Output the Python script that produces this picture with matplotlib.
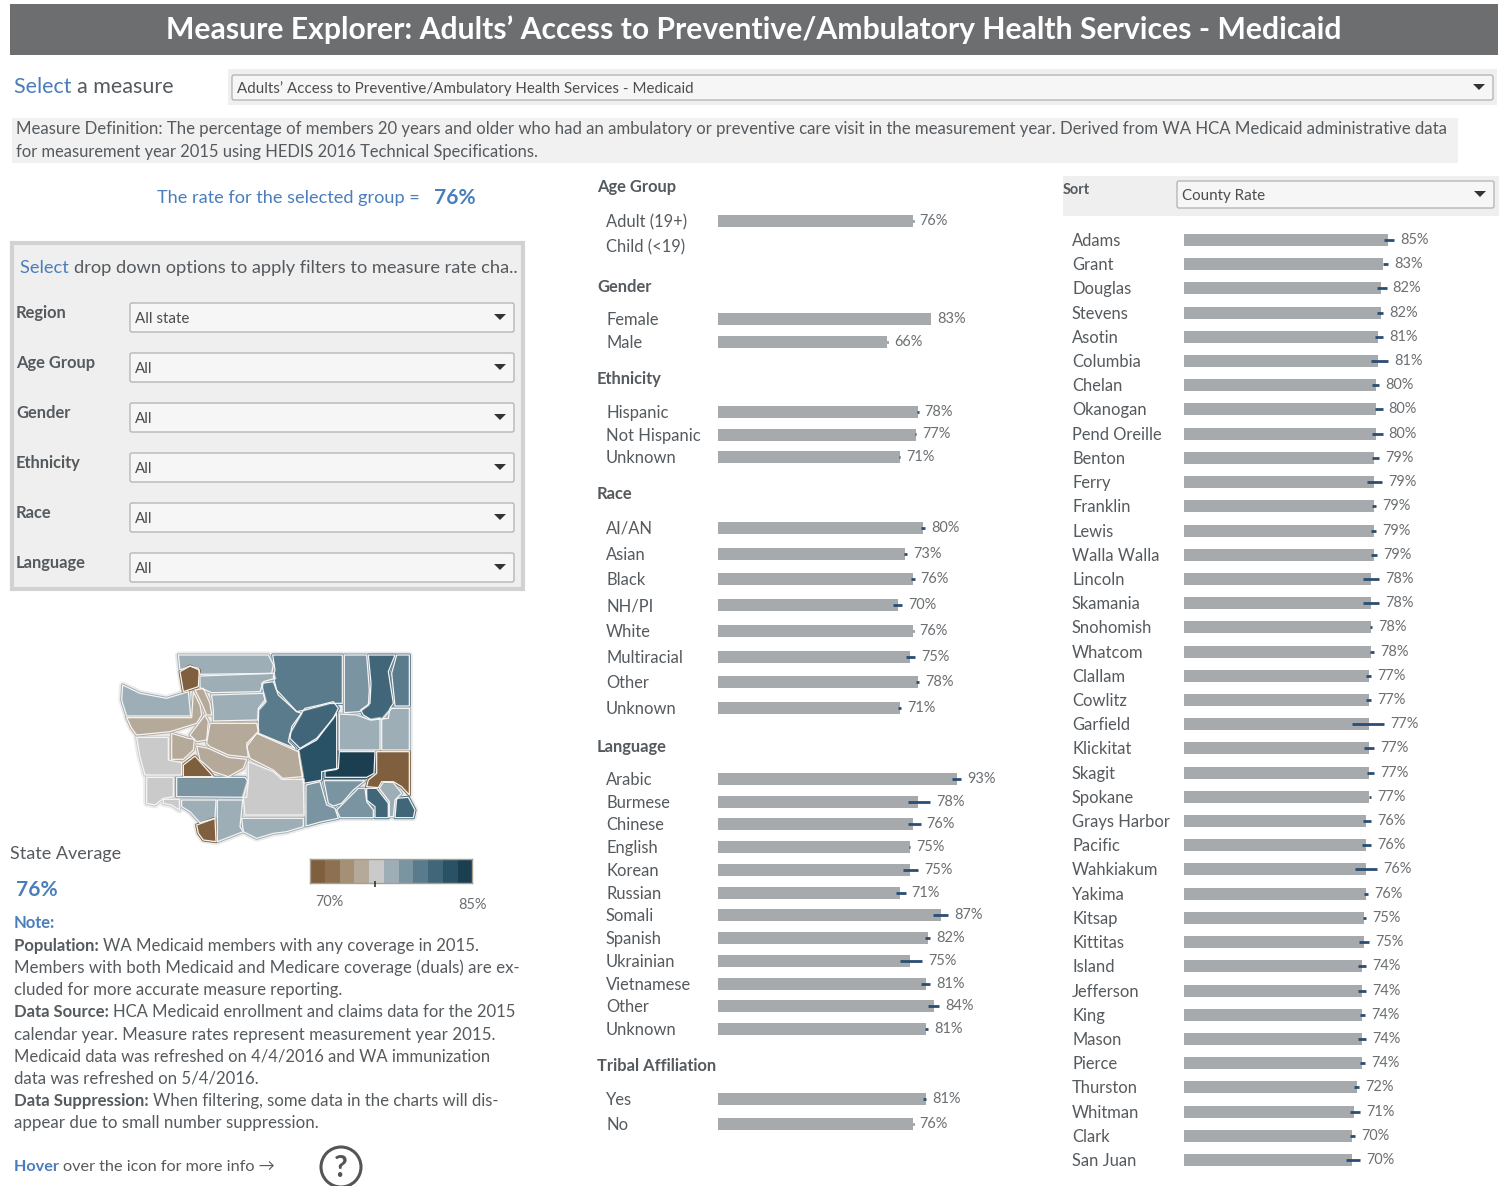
import numpy as np
import matplotlib
matplotlib.use('Agg')
import matplotlib.pyplot as plt
from matplotlib.collections import PolyCollection
from matplotlib.colors import ListedColormap, BoundaryNorm
from matplotlib.patches import Rectangle, FancyBboxPatch, Circle, Polygon

plt.rcParams['font.family'] = ['Lato', 'DejaVu Sans']

# bar data: names, rate, interval low, interval high
age_names = ['Adult (19+)', 'Child (<19)']
age_rate = [76, np.nan]
age_lo = [75.8, np.nan]
age_hi = [76.2, np.nan]

gender_names = ['Female', 'Male']
gender_rate = [83, 66]
gender_lo = [82.9, 65.8]
gender_hi = [83.2, 66.4]

ethnicity_names = ['Hispanic', 'Not Hispanic', 'Unknown']
ethnicity_rate = [78, 77, 71]
ethnicity_lo = [77.7, 76.7, 70.4]
ethnicity_hi = [78.2, 77.3, 71.1]

race_names = ['AI/AN', 'Asian', 'Black', 'NH/PI', 'White', 'Multiracial', 'Other', 'Unknown']
race_rate = [80, 73, 76, 70, 76, 75, 78, 71]
race_lo = [79.0, 72.3, 75.3, 68.3, 75.8, 73.3, 77.0, 70.0]
race_hi = [80.7, 73.7, 76.6, 71.7, 76.2, 76.8, 78.3, 71.3]

language_names = ['Arabic', 'Burmese', 'Chinese', 'English', 'Korean', 'Russian', 'Somali',
                  'Spanish', 'Ukrainian', 'Vietnamese', 'Other', 'Unknown']
language_rate = [93, 78, 76, 75, 75, 71, 87, 82, 75, 81, 84, 81]
language_lo = [91.1, 73.9, 73.9, 74.5, 72.0, 69.2, 83.9, 80.7, 70.9, 79.1, 82.0, 80.7]
language_hi = [94.7, 82.6, 79.0, 74.9, 78.0, 73.1, 89.8, 82.6, 79.6, 82.6, 86.2, 81.8]

tribal_names = ['Yes', 'No']
tribal_rate = [81, 76]
tribal_lo = [80.0, 75.8]
tribal_hi = [81.2, 76.2]

county_names = ['Adams', 'Grant', 'Douglas', 'Stevens', 'Asotin', 'Columbia', 'Chelan', 'Okanogan',
                'Pend Oreille', 'Benton', 'Ferry', 'Franklin', 'Lewis', 'Walla Walla', 'Lincoln',
                'Skamania', 'Snohomish', 'Whatcom', 'Clallam', 'Cowlitz', 'Garfield', 'Klickitat',
                'Skagit', 'Spokane', 'Grays Harbor', 'Pacific', 'Wahkiakum', 'Yakima', 'Kitsap',
                'Kittitas', 'Island', 'Jefferson', 'King', 'Mason', 'Pierce', 'Thurston', 'Whitman',
                'Clark', 'San Juan']
county_rate = [85, 83, 82, 82, 81, 81, 80, 80, 80, 79, 79, 79, 79, 79, 78, 78, 78, 78, 77, 77,
               77, 77, 77, 77, 76, 76, 76, 76, 75, 75, 74, 74, 74, 74, 74, 72, 71, 70, 70]
county_lo = [83.3, 82.8, 80.3, 80.3, 79.6, 77.8, 78.3, 79.6, 78.3, 78.2, 76.3, 78.3, 77.8, 78.0,
             74.6, 74.6, 77.5, 77.5, 76.0, 76.0, 70.0, 75.0, 76.2, 76.9, 74.6, 74.2, 71.2, 75.0,
             74.5, 72.9, 72.5, 72.5, 73.3, 72.5, 73.3, 71.0, 69.2, 69.0, 67.5]
county_hi = [87.5, 85.1, 84.4, 83.0, 83.0, 85.1, 81.3, 82.8, 82.8, 81.4, 82.5, 80.0, 80.0, 80.4,
             81.3, 81.3, 78.3, 79.2, 77.9, 77.9, 83.3, 79.2, 79.2, 77.9, 77.9, 77.9, 80.4, 76.7,
             75.8, 77.0, 75.8, 75.8, 75.4, 75.8, 75.4, 72.9, 73.3, 71.2, 73.3]

state_avg = 76
filter_names = ['Region', 'Age Group', 'Gender', 'Ethnicity', 'Race', 'Language']
filter_values = ['All state', 'All', 'All', 'All', 'All', 'All']

# map colours and bins
map_colors = ['#7f5f3e', '#8d7052', '#a58f75', '#b5a99a', '#cacaca', '#9eaeb6',
              '#7a95a1', '#5a7b8c', '#416679', '#2a5267', '#1b3f50']
map_bins = [60, 73, 73.5, 73.9, 75.5, 76.5, 78.5, 79.5, 80.5, 82.5, 84, 100]

# traced county outlines, in map axes units
county_shapes = {
    'Whatcom': [(235,45),(505,45),(520,75),(515,100),(300,103),(295,85),(270,78),(240,90)],
    'San Juan': [(240,95),(270,78),(298,90),(295,140),(250,155)],
    'Skagit': [(300,108),(520,100),(525,115),(490,125),(480,155),(335,158),(300,143)],
    'Okanogan': [(518,45),(727,45),(727,190),(690,190),(615,210),(590,215),(530,150),(520,110),(525,90)],
    'Ferry': [(733,45),(800,45),(808,150),(805,195),(778,215),(733,218)],
    'Stevens': [(805,45),(885,45),(865,95),(880,190),(870,205),(865,235),(815,240),(790,225),(782,210),(810,190),(813,130)],
    'Pend Oreille': [(890,45),(928,45),(928,198),(885,198),(875,100)],
    'Clallam': [(68,135),(120,160),(200,175),(265,155),(272,228),(210,228),(80,228),(65,180)],
    'Jefferson': [(80,233),(275,233),(280,155),(300,195),(305,225),(290,250),(210,275),(110,285),(95,265)],
    'Island': [(285,150),(310,145),(330,190),(335,225),(320,225),(305,190)],
    'Kitsap': [(270,285),(315,225),(325,245),(320,300),(290,305)],
    'Snohomish': [(335,165),(490,160),(497,185),(475,210),(473,240),(340,243),(340,210)],
    'King': [(330,250),(470,250),(475,275),(440,310),(445,352),(385,345),(330,320),(320,310)],
    'Chelan': [(485,130),(520,125),(535,165),(590,215),(605,220),(570,280),(565,305),(585,325),(475,280),(475,205),(495,180)],
    'Douglas': [(615,205),(660,195),(700,185),(715,205),(700,235),(650,295),(600,325),(570,295),(575,260)],
    'Grant': [(710,220),(710,335),(710,388),(665,395),(665,420),(640,425),(610,430),(600,370),(595,330),(650,300)],
    'Lincoln': [(718,222),(770,225),(810,240),(840,235),(840,330),(718,330)],
    'Spokane': [(845,240),(875,205),(928,205),(928,330),(845,330)],
    'Adams': [(718,335),(825,335),(822,400),(800,412),(675,412),(675,392),(715,385)],
    'Whitman': [(830,335),(928,335),(928,465),(905,440),(880,425),(845,425),(835,443),(800,440),(805,420),(830,400)],
    'Kittitas': [(470,280),(595,335),(608,410),(548,415),(520,390),(450,355),(440,320)],
    'Pierce': [(290,318),(325,325),(385,352),(440,358),(430,385),(385,410),(340,395),(300,360)],
    'Thurston': [(250,375),(285,348),(340,410),(250,410)],
    'Mason': [(215,280),(265,295),(283,298),(280,330),(250,358),(215,358)],
    'Grays Harbor': [(110,292),(205,292),(205,360),(245,368),(245,405),(135,405),(120,350)],
    'Pacific': [(140,412),(220,412),(220,470),(190,475),(165,495),(140,490)],
    'Wahkiakum': [(190,478),(238,478),(238,510),(215,495),(190,490)],
    'Lewis': [(230,412),(435,412),(445,425),(440,472),(230,470)],
    'Cowlitz': [(245,480),(348,480),(345,535),(300,548),(270,515),(245,500)],
    'Clark': [(290,555),(345,535),(348,605),(310,600),(295,580)],
    'Skamania': [(352,480),(428,480),(420,560),(430,575),(352,605)],
    'Yakima': [(445,365),(520,395),(545,418),(610,418),(612,525),(435,525),(430,470),(445,420)],
    'Klickitat': [(425,535),(610,535),(610,560),(560,575),(520,580),(470,595),(430,575)],
    'Benton': [(618,435),(660,425),(680,495),(705,505),(715,535),(665,545),(618,558)],
    'Franklin': [(672,422),(795,422),(760,450),(725,490),(700,498),(685,490)],
    'Walla Walla': [(720,500),(775,445),(795,445),(800,485),(820,510),(820,533),(720,533),(710,510)],
    'Columbia': [(800,445),(830,445),(865,490),(865,533),(825,533),(825,500),(800,480)],
    'Garfield': [(838,445),(850,427),(880,428),(905,460),(885,480),(880,530),(868,530),(868,485)],
    'Asotin': [(890,475),(925,472),(945,510),(940,533),(885,533)],
}

W, H = 1503, 1186
BLUE = '#4a7ebb'
TXT = '#555a5e'
BAR = '#a6aaad'
WHISK = '#2a4d73'

fig = plt.figure(figsize=(W / 100, H / 100), dpi=100)
# page axes in pixels for the dashboard furniture
page = fig.add_axes([0, 0, 1, 1])
page.set_xlim(0, W)
page.set_ylim(H, 0)
page.axis('off')


def px(size):
    return size * 0.72


def put(x, y, s, size=17, color=TXT, weight='normal', ha='left'):
    return page.text(x, y + 1, s, fontsize=px(size), color=color, fontweight=weight, ha=ha, va='center')


def put_runs(x, y, runs, size=17):
    # text pieces of different colour/weight on one line
    renderer = fig.canvas.get_renderer()
    for s, color, weight in runs:
        t = put(x, y, s, size, color, weight)
        x = t.get_window_extent(renderer).x1


def dropdown(x0, x1, y0, y1, label, size=15.1):
    page.add_patch(FancyBboxPatch((x0 + 2, y0 + 2), x1 - x0 - 4, y1 - y0 - 5, boxstyle='round,pad=2',
                                  fc='#f6f6f6', ec='#b0b0b0', lw=0.9))
    put(x0 + 5, (y0 + y1) / 2, label, size, '#4d4d4d')
    ax, ay = x1 - 14, (y0 + y1) / 2 - 1
    page.add_patch(Polygon([(ax - 6, ay - 3), (ax + 6, ay - 3), (ax, ay + 3)], fc='#333333', ec='none'))


def bar_group(x0, scale, y_first, y_last, names, rate, lo, hi, width=300, label_dx=112, size=16.5):
    n = len(names)
    step = (y_last - y_first) / (n - 1)
    top = y_first - step / 2
    ax = fig.add_axes([x0 / W, 1 - (top + step * n) / H, width / W, step * n / H])
    ax.set_xlim(0, width / scale)
    ax.set_ylim(n - 0.5, -0.5)
    ax.axis('off')
    y = np.arange(n)
    ax.barh(y, rate, height=12 / step, color=BAR, zorder=2)
    ax.hlines(y, lo, hi, color=WHISK, lw=2, zorder=3)
    for i in range(n):
        ax.annotate(names[i], xy=(0, i), xytext=(px(-label_dx), px(-1)), textcoords='offset points',
                    fontsize=px(size), color=TXT, va='center', ha='left', annotation_clip=False)
        if not np.isnan(rate[i]):
            ax.annotate('%d%%' % rate[i], xy=(hi[i], i), xytext=(px(6), 0), textcoords='offset points',
                        fontsize=px(14.5), color='#6b6f72', va='center', ha='left', annotation_clip=False)


# header
page.add_patch(Rectangle((10, 4), 1488, 51, fc='#6d6e70', ec='none'))
put(754, 29, 'Measure Explorer: Adults\u2019 Access to Preventive/Ambulatory Health Services - Medicaid',
    30.1, 'white', 'bold', ha='center')

put_runs(14, 86, [('Select ', BLUE, 'normal'), ('a measure', TXT, 'normal')], 21.5)
page.add_patch(Rectangle((228, 69), 1269, 36, fc='#efefef', ec='none'))
dropdown(232, 1493, 75, 101, 'Adults\u2019 Access to Preventive/Ambulatory Health Services - Medicaid')

page.add_patch(Rectangle((12, 118), 1446, 45, fc='#f1f1f1', ec='none'))
put(16, 128, 'Measure Definition: The percentage of members 20 years and older who had an ambulatory or preventive care visit in the measurement year. Derived from WA HCA Medicaid administrative data', 16.77)
put(16, 151, 'for measurement year 2015 using HEDIS 2016 Technical Specifications.', 16.5)

put(157, 197, 'The rate for the selected group =', 18.2, BLUE)
put(434, 197, '76%', 21, BLUE, 'bold')

# filter panel
page.add_patch(Rectangle((12, 243), 511, 346, fc='#efefef', ec='#d2d2d2', lw=3))
put_runs(20, 267, [('Select ', BLUE, 'normal'), ('drop down options to apply filters to measure rate cha..', TXT, 'normal')], 18.3)
for i in range(len(filter_names)):
    put(16, 312 + 50 * i, filter_names[i], 16.5, TXT, 'bold')
    dropdown(130, 514, 303 + 50 * i, 333 + 50 * i, filter_values[i])

# sort box
page.add_patch(Rectangle((1063, 176), 436, 40, fc='#efefef', ec='none'))
put(1063, 189, 'Sort', 14.5, TXT, 'bold')
dropdown(1177, 1494, 181, 209, 'County Rate')

# middle column
put(597, 186, 'Age Group', 16.5, TXT, 'bold')
bar_group(718, 2.566, 221, 246, age_names, age_rate, age_lo, age_hi)
put(597, 286, 'Gender', 16.5, TXT, 'bold')
bar_group(718, 2.566, 319, 342, gender_names, gender_rate, gender_lo, gender_hi)
put(597, 378, 'Ethnicity', 16.5, TXT, 'bold')
bar_group(718, 2.566, 412, 457, ethnicity_names, ethnicity_rate, ethnicity_lo, ethnicity_hi)
put(597, 493, 'Race', 16.5, TXT, 'bold')
bar_group(718, 2.566, 528, 708, race_names, race_rate, race_lo, race_hi)
put(597, 746, 'Language', 16.5, TXT, 'bold')
bar_group(718, 2.566, 779, 1029, language_names, language_rate, language_lo, language_hi)
put(597, 1065, 'Tribal Affiliation', 16.5, TXT, 'bold')
bar_group(718, 2.566, 1099, 1124, tribal_names, tribal_rate, tribal_lo, tribal_hi)

# county column
bar_group(1184, 2.4, 240, 1160, county_names, county_rate, county_lo, county_hi, width=300)

# map
cmap = ListedColormap(map_colors)
norm = BoundaryNorm(map_bins, cmap.N)
map_ax = fig.add_axes([100 / W, 1 - 920 / H, 400 / W, 280 / H])
map_ax.set_xlim(0, 1200)
map_ax.set_ylim(840, 0)
map_ax.axis('off')
shapes = [county_shapes[c] for c in county_names]
map_ax.add_collection(PolyCollection(shapes, facecolors='none', edgecolors='#ececec', linewidths=5))
# faces grown by their own colour to close small gaps between traced outlines
grown = PolyCollection(shapes, array=np.array(county_rate, dtype=float), cmap=cmap, norm=norm,
                       edgecolors='face', linewidths=2.2)
map_ax.add_collection(grown)
map_ax.add_collection(PolyCollection(shapes, facecolors='none', edgecolors='#f4f4f4', linewidths=0.9))

# map legend
leg = fig.add_axes([310 / W, 1 - 883 / H, 162.5 / W, 24 / H])
leg.pcolormesh(np.linspace(70, 85, 12), [0, 1], np.arange(11).reshape(1, -1), cmap=cmap, vmin=-0.5, vmax=10.5)
leg.set_xlim(70, 85)
leg.set_ylim(0, 1)
leg.set_xticks([])
leg.set_yticks([])
for s in leg.spines.values():
    s.set_color('#a89f8f')
    s.set_linewidth(1)
leg.vlines(state_avg, -0.15, 0.08, color='#333333', lw=1.2, clip_on=False, zorder=5)
put(315, 901, '70%', 14.5, '#6b6f72')
put(458, 904, '85%', 14.5, '#6b6f72')

# left column text
put(10, 853, 'State Average', 18)
put(16, 889, '%d%%' % state_avg, 21, BLUE, 'bold')
put(14, 922, 'Note:', 16.5, BLUE, 'bold')
put_runs(14, 945, [('Population: ', TXT, 'bold'), ('WA Medicaid members with any coverage in 2015.', TXT, 'normal')], 16.7)
put(14, 967, 'Members with both Medicaid and Medicare coverage (duals) are ex-', 16.9)
put(14, 989, 'cluded for more accurate measure reporting.', 16.7)
put_runs(14, 1011, [('Data Source: ', TXT, 'bold'), ('HCA Medicaid enrollment and claims data for the 2015', TXT, 'normal')], 16.6)
put(14, 1034, 'calendar year. Measure rates represent measurement year 2015.', 16.9)
put(14, 1055, 'Medicaid data was refreshed on 4/4/2016 and WA immunization', 16.6)
put(14, 1078, 'data was refreshed on 5/4/2016.', 16.7)
put_runs(14, 1100, [('Data Suppression: ', TXT, 'bold'), ('When filtering, some data in the charts will dis-', TXT, 'normal')], 16.8)
put(14, 1122, 'appear due to small number suppression.', 16.9)
put_runs(14, 1166, [('Hover ', BLUE, 'bold'), ('over the icon for more info \u2192', TXT, 'normal')], 16.3)

page.add_patch(Circle((341, 1167), 20, fc='white', ec='#555555', lw=2.2))
put(341, 1167, '?', 30, '#555555', 'bold', ha='center')

fig.savefig('out.png', dpi=100)
